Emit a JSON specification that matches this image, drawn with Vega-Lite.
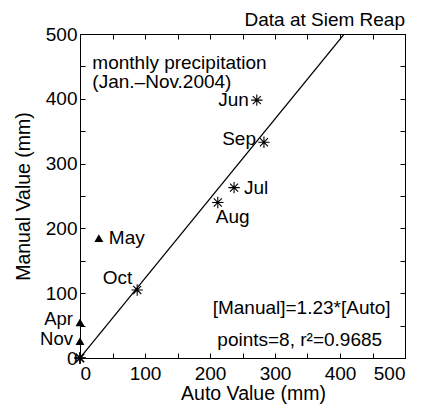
{
  "$schema": "https://vega.github.io/schema/vega-lite/v6.json",
  "width": 325,
  "height": 324,
  "autosize": {"type": "none"},
  "padding": {"left": 80, "top": 34, "right": 20, "bottom": 47},
  "background": "white",
  "config": {
    "view": {"stroke": "black", "strokeWidth": 1},
    "font": "Liberation Sans",
    "text": {"font": "Liberation Sans", "fontSize": 19, "color": "black"},
    "axis": {
      "grid": false,
      "domainColor": "black",
      "tickColor": "black",
      "tickSize": -5,
      "labelFont": "Liberation Sans",
      "labelFontSize": 19,
      "labelColor": "black",
      "titleFont": "Liberation Sans",
      "titleFontSize": 19.5,
      "titleFontWeight": "normal",
      "titleColor": "black"
    }
  },
  "datasets": {
    "months": [
      {"month": "Jan", "auto": 0, "manual": 0, "status": "fitted"},
      {"month": "Feb", "auto": 0, "manual": 0, "status": "fitted"},
      {"month": "Mar", "auto": 0, "manual": 0, "status": "fitted"},
      {"month": "Apr", "auto": 0, "manual": 55, "status": "excluded"},
      {"month": "May", "auto": 29, "manual": 185, "status": "excluded"},
      {"month": "Jun", "auto": 272, "manual": 398, "status": "fitted"},
      {"month": "Jul", "auto": 237, "manual": 263, "status": "fitted"},
      {"month": "Aug", "auto": 212, "manual": 240, "status": "fitted"},
      {"month": "Sep", "auto": 283, "manual": 333, "status": "fitted"},
      {"month": "Oct", "auto": 88, "manual": 105, "status": "fitted"},
      {"month": "Nov", "auto": 0, "manual": 26, "status": "excluded"}
    ],
    "fit": [
      {"auto": 0, "manual": 0},
      {"auto": 406.5, "manual": 500}
    ]
  },
  "data": {"name": "months"},
  "layer": [
    {
      "data": {"name": "fit"},
      "mark": {"type": "line", "color": "black", "strokeWidth": 1.2, "clip": true},
      "encoding": {
        "x": {
          "field": "auto", "type": "quantitative",
          "scale": {"domain": [0, 500], "nice": false},
          "axis": {
            "title": "Auto Value (mm)",
            "values": [0, 50, 100, 150, 200, 250, 300, 350, 400, 450, 500],
            "labelExpr": "datum.value % 100 == 0 ? datum.label : ''",
            "labelPadding": 11,
            "titlePadding": 1,
            "titleAnchor": "middle",
            "titleX": 173
          }
        },
        "y": {
          "field": "manual", "type": "quantitative",
          "scale": {"domain": [0, 500], "nice": false},
          "axis": {
            "title": "Manual Value (mm)",
            "values": [0, 50, 100, 150, 200, 250, 300, 350, 400, 450, 500],
            "labelExpr": "datum.value % 100 == 0 ? datum.label : ''",
            "labelPadding": 8,
            "titlePadding": 12
          }
        }
      }
    },
    {
      "transform": [{"filter": "datum.status == 'fitted'"}],
      "mark": {
        "type": "point",
        "shape": "M0,-1L0,1M-1,0L1,0M-0.71,-0.71L0.71,0.71M-0.71,0.71L0.71,-0.71",
        "filled": false,
        "stroke": "black",
        "strokeWidth": 1.1,
        "size": 130,
        "opacity": 1
      },
      "encoding": {
        "x": {
          "field": "auto", "type": "quantitative",
          "axis": {
            "orient": "top", "title": null, "labels": false,
            "values": [0, 50, 100, 150, 200, 250, 300, 350, 400, 450, 500]
          }
        },
        "y": {
          "field": "manual", "type": "quantitative",
          "axis": {
            "orient": "right", "title": null, "labels": false,
            "values": [0, 50, 100, 150, 200, 250, 300, 350, 400, 450, 500]
          }
        }
      }
    },
    {
      "transform": [{"filter": "datum.status == 'excluded'"}],
      "mark": {"type": "point", "shape": "triangle-up", "filled": true, "color": "black", "size": 80, "opacity": 1},
      "encoding": {
        "x": {"field": "auto", "type": "quantitative", "axis": null},
        "y": {"field": "manual", "type": "quantitative", "axis": null}
      }
    },
    {
      "transform": [{"filter": "datum.month == 'Jun'"}],
      "mark": {"type": "text", "align": "right", "baseline": "middle", "dx": -8},
      "encoding": {
        "x": {"field": "auto", "type": "quantitative", "axis": null},
        "y": {"field": "manual", "type": "quantitative", "axis": null},
        "text": {"field": "month"}
      }
    },
    {
      "transform": [{"filter": "datum.month == 'Apr'"}],
      "mark": {"type": "text", "align": "right", "baseline": "middle", "dx": -7, "dy": -3, "fontSize": 18.5},
      "encoding": {
        "x": {"field": "auto", "type": "quantitative", "axis": null},
        "y": {"field": "manual", "type": "quantitative", "axis": null},
        "text": {"field": "month"}
      }
    },
    {
      "transform": [{"filter": "datum.month == 'Nov'"}],
      "mark": {"type": "text", "align": "right", "baseline": "middle", "dx": -7, "dy": -2, "fontSize": 18.5},
      "encoding": {
        "x": {"field": "auto", "type": "quantitative", "axis": null},
        "y": {"field": "manual", "type": "quantitative", "axis": null},
        "text": {"field": "month"}
      }
    },
    {
      "transform": [{"filter": "datum.month == 'Sep'"}],
      "mark": {"type": "text", "align": "right", "baseline": "middle", "dx": -8, "dy": -3},
      "encoding": {
        "x": {"field": "auto", "type": "quantitative", "axis": null},
        "y": {"field": "manual", "type": "quantitative", "axis": null},
        "text": {"field": "month"}
      }
    },
    {
      "transform": [{"filter": "datum.month == 'Oct'"}],
      "mark": {"type": "text", "align": "right", "baseline": "middle", "dx": -5, "dy": -12},
      "encoding": {
        "x": {"field": "auto", "type": "quantitative", "axis": null},
        "y": {"field": "manual", "type": "quantitative", "axis": null},
        "text": {"field": "month"}
      }
    },
    {
      "transform": [{"filter": {"field": "month", "oneOf": ["Jul", "May"]}}],
      "mark": {"type": "text", "align": "left", "baseline": "middle", "dx": 10},
      "encoding": {
        "x": {"field": "auto", "type": "quantitative", "axis": null},
        "y": {"field": "manual", "type": "quantitative", "axis": null},
        "text": {"field": "month"}
      }
    },
    {
      "transform": [{"filter": "datum.month == 'Aug'"}],
      "mark": {"type": "text", "align": "left", "baseline": "middle", "dx": -2, "dy": 15},
      "encoding": {
        "x": {"field": "auto", "type": "quantitative", "axis": null},
        "y": {"field": "manual", "type": "quantitative", "axis": null},
        "text": {"field": "month"}
      }
    },
    {
      "data": {"values": [{}]},
      "mark": {"type": "text", "align": "left", "baseline": "middle", "text": "monthly precipitation"},
      "encoding": {
        "x": {"datum": 19, "type": "quantitative", "axis": null},
        "y": {"datum": 456, "type": "quantitative", "axis": null}
      }
    },
    {
      "data": {"values": [{}]},
      "mark": {"type": "text", "align": "left", "baseline": "middle", "text": "(Jan.–Nov.2004)"},
      "encoding": {
        "x": {"datum": 19, "type": "quantitative", "axis": null},
        "y": {"datum": 426, "type": "quantitative", "axis": null}
      }
    },
    {
      "data": {"values": [{}]},
      "mark": {"type": "text", "align": "center", "baseline": "middle", "text": "[Manual]=1.23*[Auto]"},
      "encoding": {
        "x": {"datum": 341, "type": "quantitative", "axis": null},
        "y": {"datum": 77, "type": "quantitative", "axis": null}
      }
    },
    {
      "data": {"values": [{}]},
      "mark": {"type": "text", "align": "center", "baseline": "middle", "text": "points=8,  r²=0.9685"},
      "encoding": {
        "x": {"datum": 338, "type": "quantitative", "axis": null},
        "y": {"datum": 28, "type": "quantitative", "axis": null}
      }
    },
    {
      "data": {"values": [{}]},
      "mark": {"type": "text", "align": "right", "baseline": "alphabetic", "dy": -8, "text": "Data at Siem Reap"},
      "encoding": {
        "x": {"datum": 500, "type": "quantitative", "axis": null},
        "y": {"datum": 500, "type": "quantitative", "axis": null}
      }
    }
  ],
  "resolve": {"axis": {"x": "independent", "y": "independent"}}
}
